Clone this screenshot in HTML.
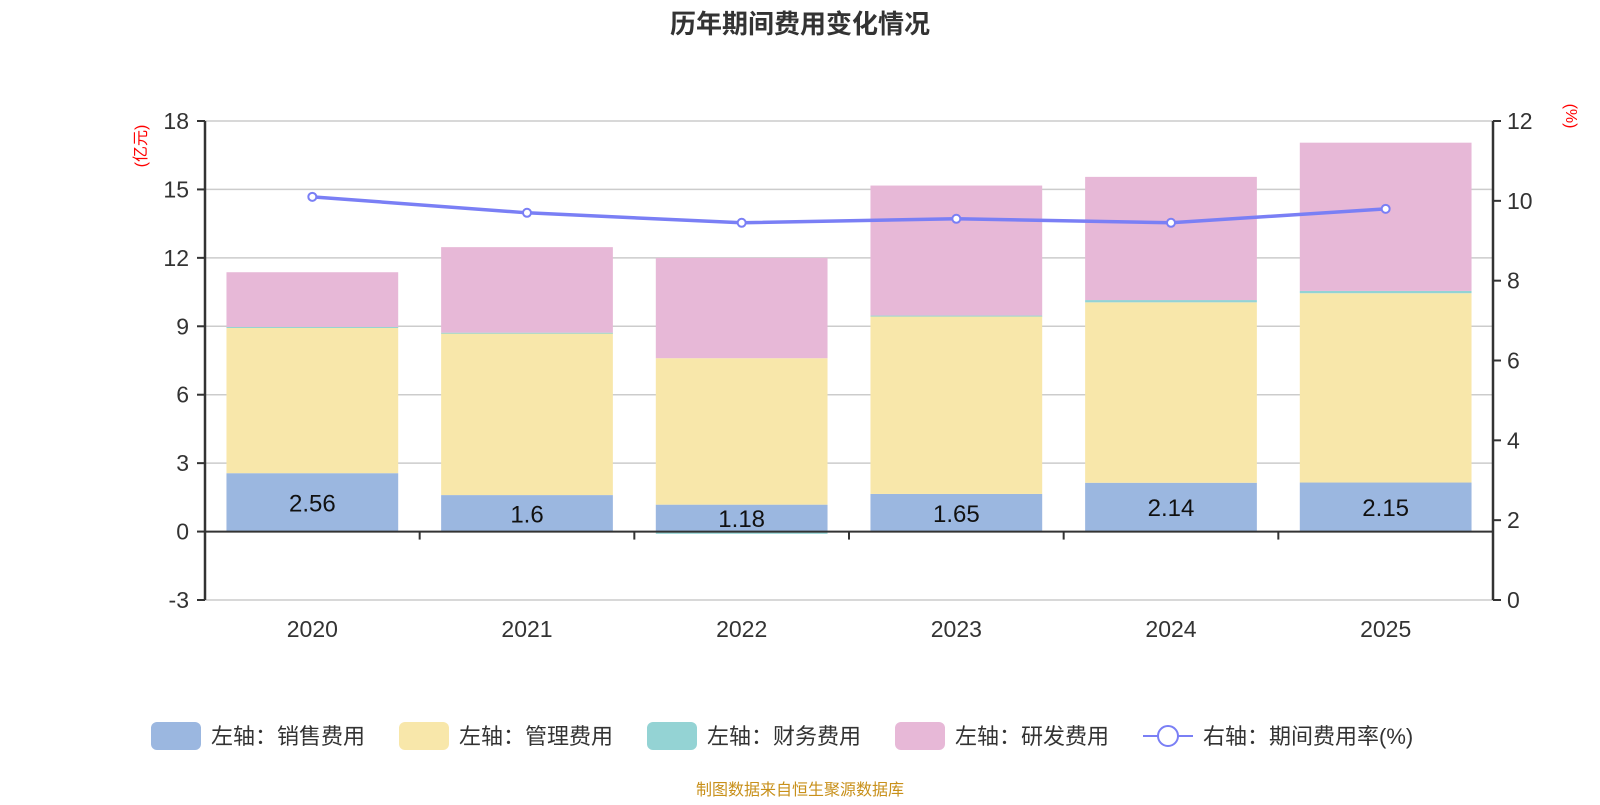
<!DOCTYPE html>
<html><head><meta charset="utf-8"><style>
body{margin:0;background:#fff;width:1600px;height:800px;overflow:hidden;font-family:"Liberation Sans","Noto Sans CJK SC",sans-serif}
</style></head><body>
<svg id="c" width="1600" height="800" xmlns="http://www.w3.org/2000/svg"></svg>
<script>
const categories=["2020","2021","2022","2023","2024","2025"];
const sales=[2.56,1.6,1.18,1.65,2.14,2.15];
const mgmt=[6.39,7.1,6.42,7.8,7.91,8.3];
const finance=[0.02,0.02,-0.1,0.02,0.1,0.1];
const rd=[2.4,3.75,4.4,5.7,5.4,6.5];
const rate=[10.1,9.7,9.45,9.55,9.45,9.8];
const leftTicks=[-3,0,3,6,9,12,15,18];
const rightTicks=[0,2,4,6,8,10,12];
const NS="http://www.w3.org/2000/svg";
const svg=document.getElementById('c');
const X0=205,X1=1493,YT=121,YB=600;
const yL=v=>YB-(v+3)/21*(YB-YT);
const yR=v=>YB-v/12*(YB-YT);
const bw=(X1-X0)/categories.length;
const xc=i=>X0+bw*(i+0.5);
function el(t,a,txt){const e=document.createElementNS(NS,t);for(const k in a)e.setAttribute(k,a[k]);if(txt!==undefined)e.textContent=txt;svg.appendChild(e);return e;}
let t=el('text',{x:800,y:33,'text-anchor':'middle','font-size':26,'font-weight':'bold',fill:'#333'},'历年期间费用变化情况');


leftTicks.forEach(v=>{const g=el('line',{x1:X0,x2:X1,y1:yL(v),y2:yL(v),stroke:'#ccc','stroke-width':1.5});


el('line',{x1:X0-8,x2:X0,y1:yL(v),y2:yL(v),stroke:'#333','stroke-width':2});
const l=el('text',{x:X0-16,y:yL(v)+8,'text-anchor':'end','font-size':23,fill:'#333'},String(v));

});
rightTicks.forEach(v=>{el('line',{x1:X1,x2:X1+8,y1:yR(v),y2:yR(v),stroke:'#333','stroke-width':2});
const l=el('text',{x:X1+14,y:yR(v)+8,'font-size':23,fill:'#333'},String(v));

});
const colors=['#9bb7e0','#f8e7aa','#94d3d4','#e7b8d7'];
const series=[sales,mgmt,finance,rd];
categories.forEach((c,i)=>{let pos=0,neg=0;const w=bw*0.8,x=xc(i)-w/2;
series.forEach((s,k)=>{const v=s[i];let a,b;if(v>=0){a=pos;b=pos+v;pos=b;}else{a=neg+v;b=neg;neg=a;}
const r=el('rect',{x:x,y:yL(b),width:w,height:Math.max(yL(a)-yL(b),1),fill:colors[k]});

});
const lb=el('text',{x:xc(i),y:(yL(0)+yL(sales[i]))/2+9,'text-anchor':'middle','font-size':24,fill:'#111'},String(sales[i]));


const xl=el('text',{x:xc(i),y:637,'text-anchor':'middle','font-size':23,fill:'#333'},c);


if(i>0)el('line',{x1:X0+bw*i,x2:X0+bw*i,y1:yL(0),y2:yL(0)+8,stroke:'#333','stroke-width':2});});
el('line',{x1:X0,x2:X1,y1:yL(0),y2:yL(0),stroke:'#333','stroke-width':2});
el('line',{x1:X0,x2:X0,y1:YT,y2:YB,stroke:'#333','stroke-width':2.5});
el('line',{x1:X1,x2:X1,y1:YT,y2:YB,stroke:'#333','stroke-width':2.5});
const pl=el('polyline',{points:rate.map((v,i)=>xc(i)+','+yR(v)).join(' '),fill:'none',stroke:'#7a7ff5','stroke-width':3.5});


rate.forEach((v,i)=>{const p=el('circle',{cx:xc(i),cy:yR(v),r:4,fill:'#fff',stroke:'#7a7ff5','stroke-width':2});

});
const u1=el('text',{x:0,y:0,'font-size':16,fill:'red',transform:'translate(146,146) rotate(-90)','text-anchor':'middle'},'(亿元)');


const u2=el('text',{x:0,y:0,'font-size':16,fill:'red',transform:'translate(1566,116) rotate(90)','text-anchor':'middle'},'(%)');


const legs=[['左轴：销售费用',colors[0],151],['左轴：管理费用',colors[1],399],['左轴：财务费用',colors[2],647],['左轴：研发费用',colors[3],895]];
legs.forEach(([n,c,x])=>{const r=el('rect',{x:x,y:722,width:50,height:28,rx:6,fill:c});


const tx=el('text',{x:x+60,y:744,'font-size':22,fill:'#333'},n);

});
el('line',{x1:1143,x2:1193,y1:736,y2:736,stroke:'#7a7ff5','stroke-width':2});
el('circle',{cx:1168,cy:736,r:10,fill:'#fff',stroke:'#7a7ff5','stroke-width':2});
const lt=el('text',{x:1203,y:744,'font-size':22,fill:'#333'},'右轴：期间费用率(%)');


const src=el('text',{x:800,y:795,'text-anchor':'middle','font-size':16,fill:'#c8901a'},'制图数据来自恒生聚源数据库');


</script>
</body></html>
